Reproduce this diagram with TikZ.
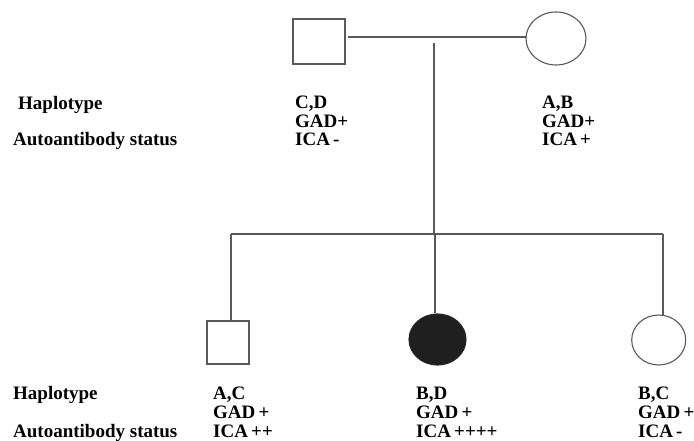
\documentclass[tikz,border=0pt]{standalone}
\usepackage{fontspec}
\setmainfont{Liberation Serif}
\usetikzlibrary{shapes.geometric}
\newcommand\gs{\hspace{0.17em}}
\begin{document}
\begin{tikzpicture}[x=1pt,y=-1pt,
  line/.style={draw=black!65,line width=1.1pt},
  male/.style={rectangle,draw=black!65,line width=1.1pt,fill=white,inner sep=0pt},
  female/.style={ellipse,draw=black!65,line width=1.1pt,fill=white,inner sep=0pt},
  affected/.style={ellipse,draw=black!85,line width=1.1pt,fill=black!88,inner sep=0pt},
  lab/.style={anchor=base west,inner sep=0pt,font=\fontsize{19}{19}\selectfont\bfseries}]
\useasboundingbox (0,0) rectangle (694,441);
% parents
\node[male,minimum width=52pt,minimum height=45pt] (father) at (319,41.5) {};
\node[female,minimum width=60pt,minimum height=53pt] (mother) at (556,38.5) {};
\coordinate (mf) at (348,37);
\coordinate (mm) at (526,37);
\draw[line] (mf) -- (mm);
\coordinate (dtop) at (434,43);
\coordinate (dbot) at (434,234);
\draw[line] (dtop) -- (dbot);
% sibship
\coordinate (s1) at (231,234);
\coordinate (s3) at (663,234);
\draw[line] (s1) -- (s3);
% children
\node[male,minimum width=42pt,minimum height=43pt] (c1) at (228,342.5) {};
\node[affected,minimum width=57pt,minimum height=51pt] (c2) at (437.5,339.5) {};
\node[female,minimum width=54pt,minimum height=50pt] (c3) at (658.7,340) {};
\draw[line] (s1) -- (s1 |- c1.north);
\coordinate (s2) at (435,234);
\coordinate (c2top) at (435,313);
\draw[line] (s2) -- (c2top);
\coordinate (c3top) at (663,315);
\draw[line] (s3) -- (c3top);
% top labels
\node[lab] (h1) at (18,110) {Haplotype};
\node[lab] (a1) at (13,146) {Autoantibody status};
\node[lab] (f1) at (295,108.5) {C,D};
\node[lab] (f2) at (295,127.5) {GAD+};
\node[lab] (f3) at (295,146) {ICA\gs-};
\node[lab] (m1) at (542,108.5) {A,B};
\node[lab] (m2) at (542,127.5) {GAD+};
\node[lab] (m3) at (542,146) {ICA\gs+};
% bottom labels
\node[lab] (h2) at (13,399) {Haplotype};
\node[lab] (a2) at (13,437) {Autoantibody status};
\node[lab] (k1a) at (213,399) {A,C};
\node[lab] (k1b) at (213,418) {GAD\gs+};
\node[lab] (k1c) at (213,437) {ICA\gs++};
\node[lab] (k2a) at (416,399) {B,D};
\node[lab] (k2b) at (416,418) {GAD\gs+};
\node[lab] (k2c) at (416,437) {ICA\gs++++};
\node[lab] (k3a) at (638,399) {B,C};
\node[lab] (k3b) at (638,418) {GAD\gs+};
\node[lab] (k3c) at (638,437) {ICA\gs-};
\end{tikzpicture}
\end{document}
